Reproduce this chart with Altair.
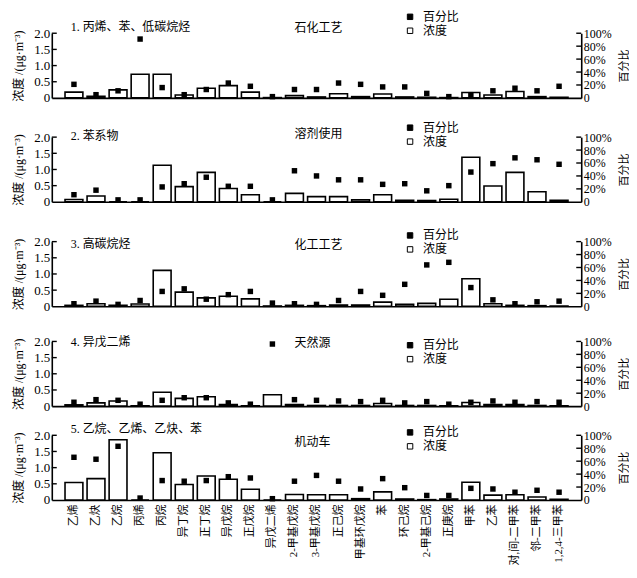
import altair as alt
import pandas as pd

categories = ["乙烯", "乙炔", "乙烷", "丙烯", "丙烷", "异丁烷", "正丁烷", "异戊烷", "正戊烷", "异戊二烯",
              "2-甲基戊烷", "3-甲基戊烷", "正己烷", "甲基环戊烷", "苯", "环己烷", "2-甲基己烷", "正庚烷",
              "甲苯", "乙苯", "对,间-二甲苯", "邻-二甲苯", "1,2,4-三甲苯"]

panel_titles = ["1. 丙烯、苯、低碳烷烃", "2. 苯系物", "3. 高碳烷烃", "4. 异戊二烯", "5. 乙烷、乙烯、乙炔、苯"]
source_names = ["石化工艺", "溶剂使用", "化工工艺", "天然源", "机动车"]
legend_labels = ["百分比", "浓度"]

conc_1 = [0.18, 0.05, 0.25, 0.73, 0.73, 0.09, 0.30, 0.38, 0.18, 0.01, 0.07, 0.03, 0.13, 0.04, 0.12, 0.03, 0.02, 0.01, 0.17, 0.09, 0.20, 0.04, 0.02]
pct_1 = [21, 5, 11, 91, 16, 5, 13, 23, 18, 2, 13, 13, 23, 21, 17, 17, 7, 2, 5, 11, 15, 11, 18]

conc_2 = [0.07, 0.18, 0.0, 0.0, 1.13, 0.47, 0.91, 0.41, 0.22, 0.0, 0.26, 0.16, 0.16, 0.06, 0.22, 0.05, 0.04, 0.08, 1.38, 0.49, 0.91, 0.31, 0.05]
pct_2 = [11, 18, 3, 3, 23, 28, 38, 24, 24, 3, 48, 40, 34, 34, 27, 28, 17, 25, 46, 59, 68, 65, 58]

conc_3 = [0.03, 0.08, 0.03, 0.07, 1.11, 0.44, 0.26, 0.31, 0.23, 0.01, 0.03, 0.02, 0.04, 0.04, 0.13, 0.06, 0.09, 0.22, 0.85, 0.08, 0.03, 0.02, 0.01]
pct_3 = [4, 8, 3, 9, 23, 27, 11, 18, 23, 5, 4, 3, 9, 23, 17, 34, 64, 68, 29, 10, 4, 7, 8]

conc_4 = [0.04, 0.10, 0.16, 0.01, 0.43, 0.24, 0.29, 0.05, 0.01, 0.35, 0.05, 0.02, 0.02, 0.02, 0.08, 0.02, 0.02, 0.01, 0.11, 0.05, 0.05, 0.02, 0.01]
pct_4 = [6, 10, 9, 3, 9, 13, 13, 5, 3, 96, 10, 9, 8, 7, 9, 5, 7, 3, 6, 8, 6, 7, 6]

conc_5 = [0.54, 0.66, 1.86, 0.0, 1.46, 0.48, 0.74, 0.64, 0.33, 0.0, 0.17, 0.16, 0.16, 0.04, 0.25, 0.03, 0.01, 0.03, 0.55, 0.15, 0.16, 0.09, 0.02]
pct_5 = [66, 63, 83, 3, 30, 29, 30, 36, 34, 2, 29, 38, 29, 17, 33, 19, 7, 7, 18, 17, 12, 15, 12]

concs = [conc_1, conc_2, conc_3, conc_4, conc_5]
pcts = [pct_1, pct_2, pct_3, pct_4, pct_5]

left_ticks = [0, 0.5, 1.0, 1.5, 2.0]
right_ticks = [0, 20, 40, 60, 80, 100]

FONT_NUM = "Liberation Serif, Noto Sans CJK SC, DejaVu Serif"
FONT_TXT = "Liberation Serif, Noto Sans CJK SC"

W, H = 532, 65
extra = [0, 10.4, 10.4, 5.7, 0]
title_dy = [-6, -1, 2, 1, -6.4]
source_dy = [-5.3, -2.9, 3.8, 1.3, 6.3]
legend_dy = [-17, -10, -6.7, 3.3, -3.4]


def panel(i):
    e = extra[i]
    ph = H + e
    last = i == 4
    df = pd.DataFrame({"cat": categories, "conc": concs[i], "pct": pcts[i]})
    base = alt.Chart(df)

    if last:
        xaxis = alt.Axis(title=None, ticks=False, tickSize=0, labelAngle=270, labelFont=FONT_TXT,
                         labelFontSize=11, labelPadding=4, labelColor="black",
                         domainColor="black", domainWidth=1.6)
    else:
        xaxis = alt.Axis(title=None, ticks=False, tickSize=0, labels=False,
                         domainColor="black", domainWidth=1.6)
    xenc = alt.X("cat:N", sort=categories,
                 scale=alt.Scale(domain=categories, paddingInner=0.19, paddingOuter=0.6),
                 axis=xaxis)

    fill_scale = alt.Scale(domain=legend_labels, range=["black", "white"])
    legend = alt.Legend(orient="none", legendX=354, legendY=e + legend_dy[i] - 5.5, title=None,
                        symbolType="square", symbolSize=30, symbolStrokeColor="black",
                        symbolStrokeWidth=1, labelFont=FONT_TXT, labelFontSize=12,
                        labelColor="black", labelOffset=7, rowPadding=2)

    yl_scale = alt.Scale(domain=[0, 2], range=[ph, e])
    yr_scale = alt.Scale(domain=[0, 100], range=[ph, e])
    yl_axis = alt.Axis(values=left_ticks, ticks=False, tickSize=0, grid=False, labelOverlap=False,
                       labelExpr="datum.value == 0 ? '0' : format(datum.value, '.1f')",
                       title="浓度 /(μg·m⁻³)", titleFont=FONT_TXT, titleFontSize=12,
                       titleFontWeight="normal", titlePadding=8, titleColor="black",
                       labelFont=FONT_NUM, labelFontSize=13, labelPadding=2,
                       labelColor="black", domainColor="black", domainWidth=1.6)
    yr_axis = alt.Axis(orient="right", values=right_ticks, ticks=False, tickSize=0, grid=False,
                       labelOverlap=False,
                       labelExpr="datum.value == 0 ? '0' : datum.value + '%'",
                       title="百分比", titleAngle=270, titleBaseline="top", titleFont=FONT_TXT,
                       titleFontSize=11, titleFontWeight="normal", titlePadding=7,
                       titleColor="black",
                       labelFont=FONT_NUM, labelFontSize=12, labelPadding=2,
                       labelColor="black", domainColor="black", domainWidth=1.6)

    bars = base.transform_calculate(kind="'浓度'").mark_bar(
        stroke="black", strokeWidth=1.6
    ).encode(
        x=xenc,
        y=alt.Y("conc:Q", scale=yl_scale, axis=yl_axis),
        fill=alt.Fill("kind:N", scale=fill_scale, legend=legend),
    )
    lt = alt.Chart(pd.DataFrame({"conc": left_ticks[1:]})).mark_rule(color="black", strokeWidth=1.4).encode(
        y=alt.Y("conc:Q", scale=yl_scale, axis=yl_axis),
        x=alt.value(0), x2=alt.value(5),
    )
    left = alt.layer(bars, lt)

    pts = base.transform_calculate(kind="'百分比'").mark_square(size=30, opacity=1).encode(
        x=xenc,
        y=alt.Y("pct:Q", scale=yr_scale, axis=yr_axis),
        fill=alt.Fill("kind:N", scale=fill_scale, legend=legend),
    )
    rt = alt.Chart(pd.DataFrame({"pct": right_ticks[1:]})).mark_rule(color="black", strokeWidth=1.4).encode(
        y=alt.Y("pct:Q", scale=yr_scale, axis=yr_axis),
        x=alt.value(W - 5), x2=alt.value(W),
    )
    right = alt.layer(pts, rt)

    ttl = alt.Chart(pd.DataFrame({"t": [panel_titles[i]]})).mark_text(
        align="left", baseline="middle", font=FONT_TXT, fontSize=12, color="black"
    ).encode(text="t:N", x=alt.value(19), y=alt.value(e + title_dy[i]))
    src = alt.Chart(pd.DataFrame({"t": [source_names[i]]})).mark_text(
        align="left", baseline="middle", font=FONT_TXT, fontSize=12, color="black"
    ).encode(text="t:N", x=alt.value(244), y=alt.value(e + source_dy[i]))

    return alt.layer(left, right, ttl, src).resolve_scale(y="independent").properties(width=W, height=ph)


panels = [panel(i) for i in range(5)]

chart = alt.vconcat(*panels, spacing=29, bounds="flush").resolve_scale(
    x="independent", fill="independent"
).resolve_legend(fill="independent").properties(
    padding={"left": 4, "top": 1, "right": 0, "bottom": 2}
).configure_view(stroke=None).configure_axis(grid=False)

chart.save("out.html", embed_options={"renderer": "svg", "actions": False})
